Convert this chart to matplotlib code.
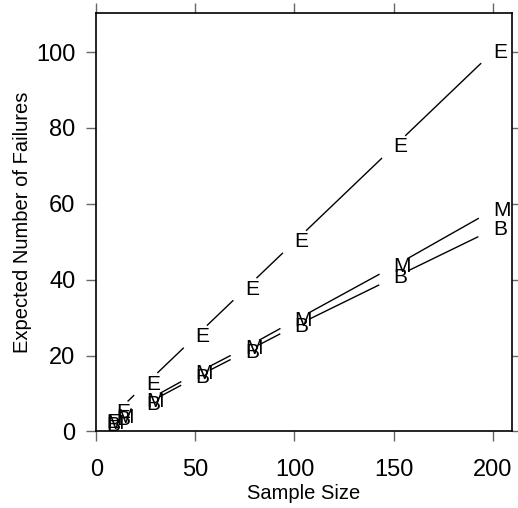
import matplotlib
matplotlib.use("Agg")
import matplotlib.pyplot as plt
import numpy as np

plt.rcParams['font.family'] = ['Liberation Sans', 'DejaVu Sans']

sample_size = [5, 10, 25, 50, 75, 100, 150, 200]
series_E = [2.5, 5.0, 12.5, 25.0, 37.5, 50.0, 75.0, 100.0]
series_M = [2.0, 3.8, 8.0, 15.2, 22.0, 29.2, 43.5, 58.3]
series_B = [1.5, 3.2, 7.2, 14.2, 20.9, 27.7, 40.5, 53.2]
series = [("E", series_E), ("M", series_M), ("B", series_B)]
xticks = [0, 50, 100, 150, 200]
yticks = [0, 20, 40, 60, 80, 100]

fig = plt.figure(figsize=(5.18, 5.08), dpi=100)
ax = fig.add_axes([0.1857, 0.1506, 0.9884 - 0.1857, 0.9744 - 0.1506])
ax.set_xlim(0, 209.7)
ax.set_ylim(0, 110.3)

gap = 16.0  # pixels
fig.canvas.draw()
T = ax.transData
inv = T.inverted()
for letter, vals in series:
    pts = T.transform(np.column_stack([sample_size, vals]))
    for i in range(len(pts) - 1):
        p0, p1 = pts[i], pts[i + 1]
        d = p1 - p0
        L = np.hypot(*d)
        if L <= 2 * gap:
            continue
        u = d / L
        a = inv.transform(p0 + u * gap)
        b = inv.transform(p1 - u * gap)
        ax.plot([a[0], b[0]], [a[1], b[1]], color='black', lw=1.0, solid_capstyle='butt')
    for x, y in zip(sample_size, vals):
        ax.text(x, y, letter, ha='left', va='center', fontsize=15, color='black')

ax.set_xticks(xticks)
ax.set_yticks(yticks)
ax.tick_params(axis='both', which='both', direction='out', length=7, width=1,
               color='#666666', labelsize=17, top=True, right=True,
               labeltop=False, labelright=False)
ax.tick_params(axis='x', pad=13)
ax.tick_params(axis='y', pad=8)
for s in ax.spines.values():
    s.set_linewidth(1.2)
ax.set_xlabel("Sample Size", fontsize=14.5, labelpad=2)
ax.set_ylabel("Expected Number of Failures", fontsize=14.5, labelpad=3)

fig.savefig("out.png", dpi=100)
